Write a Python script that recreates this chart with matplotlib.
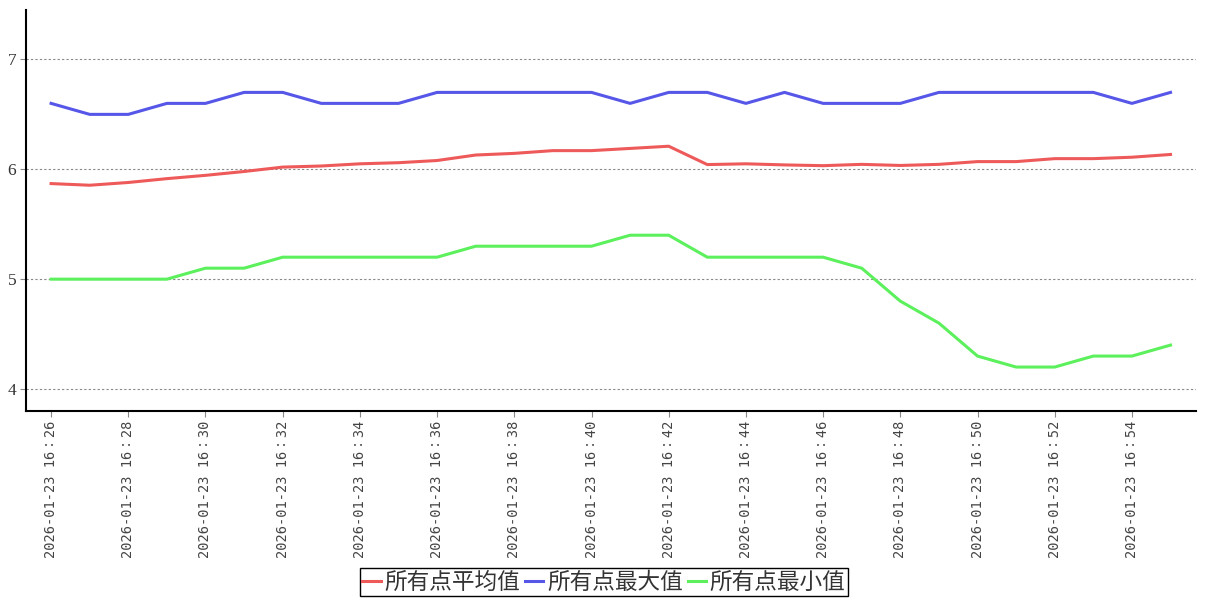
import matplotlib
matplotlib.use("Agg")
import matplotlib.pyplot as plt

times = ["16：%02d" % m for m in range(26, 56)]
date = "2026-01-23"

avg_vals = [5.87, 5.855, 5.88, 5.915, 5.945, 5.98, 6.02, 6.03, 6.05, 6.06,
            6.08, 6.13, 6.145, 6.17, 6.17, 6.19, 6.21, 6.043, 6.05, 6.04,
            6.033, 6.045, 6.035, 6.045, 6.07, 6.07, 6.097, 6.097, 6.11, 6.135]
max_vals = [6.6, 6.5, 6.5, 6.6, 6.6, 6.7, 6.7, 6.6, 6.6, 6.6,
            6.7, 6.7, 6.7, 6.7, 6.7, 6.6, 6.7, 6.7, 6.6, 6.7,
            6.6, 6.6, 6.6, 6.7, 6.7, 6.7, 6.7, 6.7, 6.6, 6.7]
min_vals = [5.0, 5.0, 5.0, 5.0, 5.1, 5.1, 5.2, 5.2, 5.2, 5.2,
            5.2, 5.3, 5.3, 5.3, 5.3, 5.4, 5.4, 5.2, 5.2, 5.2,
            5.2, 5.1, 4.8, 4.6, 4.3, 4.2, 4.2, 4.3, 4.3, 4.4]
series_names = ["所有点平均值", "所有点最大值", "所有点最小值"]
colors = ["#ee5a5a", "#5656e8", "#5cf05c"]
y_ticks = [4, 5, 6, 7]

fig = plt.figure(figsize=(12.07, 6.0), dpi=100)
ax = fig.add_axes([26 / 1207, 1 - 411 / 600, (1196 - 26) / 1207, (411 - 10) / 600])

x = list(range(len(times)))
for vals, name, c in zip([avg_vals, max_vals, min_vals], series_names, colors):
    ax.plot(x, vals, color=c, lw=2.2, label=name, solid_joinstyle="round")

ax.set_xlim(-0.65, 29.66)
ax.set_ylim(3.8, 7.45)
ax.set_yticks(y_ticks)
ax.set_yticklabels([str(v) for v in y_ticks], family="Liberation Serif",
                   fontsize=12.5, color="#333333")
tick_pos = x[::2]
ax.set_xticks(tick_pos)
ax.set_xticklabels([date + " " + times[i] for i in tick_pos], rotation=90,
                   family=["DejaVu Sans Mono", "Noto Sans CJK TC"], fontsize=9.8,
                   color="#444444")
ax.tick_params(axis="both", length=4, width=0.8, color="#888888", pad=3)

ax.grid(axis="y", color="#888888", lw=0.8, ls=(0, (2, 2)))
ax.set_axisbelow(True)
for s in ["top", "right"]:
    ax.spines[s].set_visible(False)
for s in ["left", "bottom"]:
    ax.spines[s].set_linewidth(1.5)
    ax.spines[s].set_color("black")

leg = fig.legend(loc="center", bbox_to_anchor=(604 / 1207, 1 - 582 / 600), ncol=3,
                 prop={"family": ["Noto Sans CJK SC", "DejaVu Sans"], "size": 16.3},
                 handlelength=0.8, handletextpad=0.15, columnspacing=0.25,
                 borderpad=0.1, fancybox=False, framealpha=1, edgecolor="black")
leg.get_frame().set_linewidth(1.0)
for t in leg.get_texts():
    t.set_color("#333333")

fig.savefig("out.png", dpi=100)
